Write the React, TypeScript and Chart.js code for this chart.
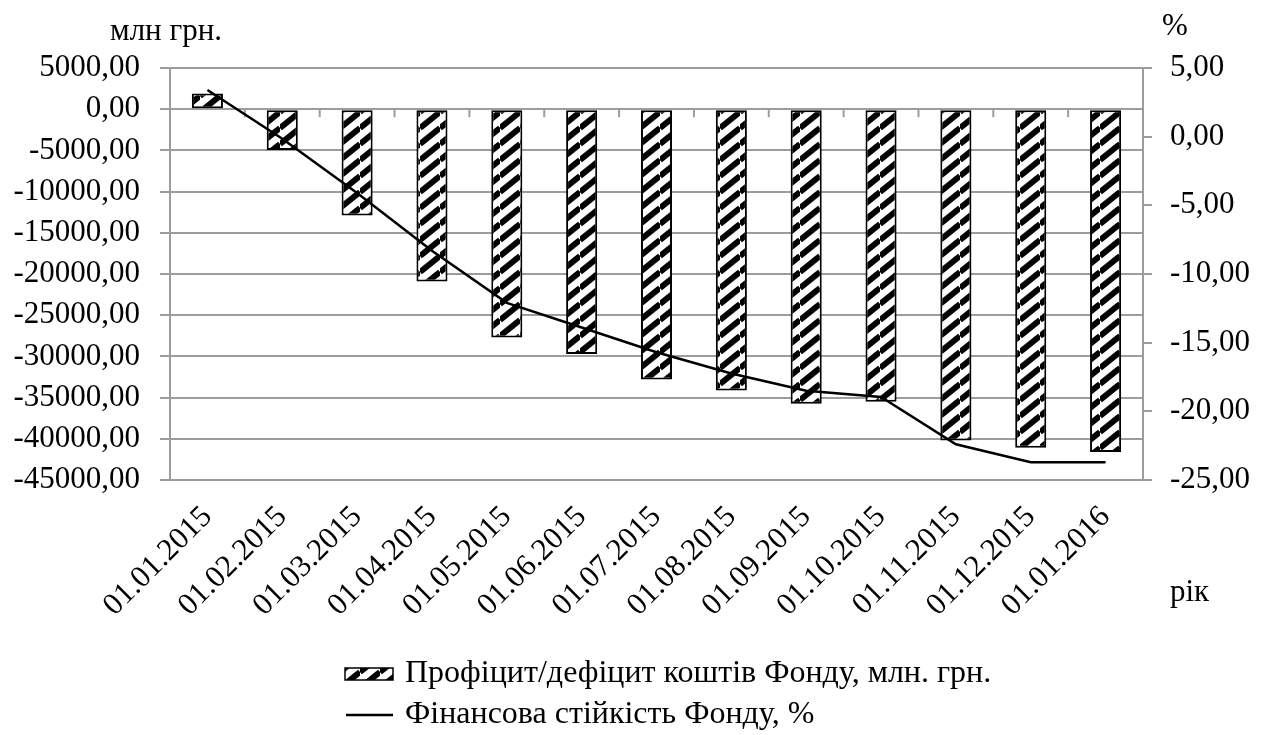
import React, { useEffect, useRef } from "react";
import { Chart, registerables } from "chart.js";

Chart.register(...registerables);

// Reporting dates (category axis)
const dates = [
  "01.01.2015",
  "01.02.2015",
  "01.03.2015",
  "01.04.2015",
  "01.05.2015",
  "01.06.2015",
  "01.07.2015",
  "01.08.2015",
  "01.09.2015",
  "01.10.2015",
  "01.11.2015",
  "01.12.2015",
  "01.01.2016",
];

// Surplus / deficit of the Fund, mln UAH (left axis)
const balance = [
  1900, -4950, -12900, -20900, -27700, -29700, -32800, -34150, -35750, -35500,
  -40200, -41100, -41600,
];

// Financial stability of the Fund, % (right axis)
const stability = [
  3.4, -0.15, -4.1, -8.3, -12.1, -13.9, -15.7, -17.25, -18.5, -18.95, -22.4,
  -23.7, -23.7,
];

const balanceLabel = "Профіцит/дефіцит коштів Фонду, млн. грн.";
const stabilityLabel = "Фінансова стійкість Фонду, %";
const leftUnit = "млн грн.";
const rightUnit = "%";
const xUnit = "рік";

const leftRange = { min: -45000, max: 5000, step: 5000 };
const rightRange = { min: -25, max: 5, step: 5 };

const FAMILY = '"Liberation Serif", "Times New Roman", serif';
const TICK_SIZE = 31;
const LEGEND_SIZE = 32;
const GRID = "#9c9c9c";

const fmt = (v: number) => Number(v).toFixed(2).replace(".", ",");

// Upward diagonal hatch used for the bars and their legend swatch
function makeHatch(ctx: CanvasRenderingContext2D): CanvasPattern | string {
  const w = 20;
  const h = 16;
  const tile = document.createElement("canvas");
  tile.width = w;
  tile.height = h;
  const g = tile.getContext("2d");
  if (!g) return "#888";
  g.fillStyle = "#ffffff";
  g.fillRect(0, 0, w, h);
  g.strokeStyle = "#000000";
  g.lineWidth = 6;
  for (let k = -1; k <= 1; k++) {
    g.beginPath();
    g.moveTo(0, h + k * h);
    g.lineTo(w, k * h);
    g.stroke();
  }
  return ctx.createPattern(tile, "repeat") || "#888";
}

export default function App() {
  const canvasRef = useRef<HTMLCanvasElement | null>(null);

  useEffect(() => {
    const canvas = canvasRef.current;
    if (!canvas) return;
    const ctx = canvas.getContext("2d");
    if (!ctx) return;
    const hatch = makeHatch(ctx);

    const decorations = {
      id: "decorations",
      beforeDatasetsDraw(chart: any) {
        // category tick marks hanging under the zero line
        const c = chart.ctx;
        const xs = chart.scales.x;
        const y0 = chart.scales.y.getPixelForValue(0);
        c.save();
        c.strokeStyle = GRID;
        c.lineWidth = 2;
        for (let i = 1; i < dates.length; i++) {
          const bx = (xs.getPixelForValue(i - 1) + xs.getPixelForValue(i)) / 2;
          c.beginPath();
          c.moveTo(bx, y0);
          c.lineTo(bx, y0 + 8);
          c.stroke();
        }
        c.restore();
      },
      afterDraw(chart: any) {
        const c = chart.ctx;
        const area = chart.chartArea;
        c.save();
        c.font = `${TICK_SIZE}px ${FAMILY}`;
        c.fillStyle = "#000";
        c.textBaseline = "alphabetic";

        // axis units
        c.textAlign = "center";
        c.fillText(leftUnit, 166, 40);
        c.textAlign = "left";
        c.fillText(rightUnit, area.right + 19, 35);
        c.fillText(xUnit, area.right + 27, 601);

        // legend
        c.font = `${LEGEND_SIZE}px ${FAMILY}`;
        const lx = 345;
        c.fillStyle = hatch;
        c.fillRect(lx, 668, 48, 12);
        c.strokeStyle = "#000";
        c.lineWidth = 1.5;
        c.strokeRect(lx, 668, 48, 12);
        c.fillStyle = "#000";
        c.fillText(balanceLabel, lx + 60, 682);

        c.beginPath();
        c.moveTo(lx + 1, 715);
        c.lineTo(lx + 48, 715);
        c.lineWidth = 2.5;
        c.stroke();
        c.fillText(stabilityLabel, lx + 60, 723);
        c.restore();
      },
    };

    const tickFont = { family: FAMILY, size: TICK_SIZE };

    const chart = new Chart(canvas, {
      data: {
        labels: dates,
        datasets: [
          {
            type: "bar",
            label: balanceLabel,
            data: balance,
            yAxisID: "y",
            backgroundColor: hatch as any,
            borderColor: "#000",
            borderWidth: 2,
            borderSkipped: false,
            barPercentage: 0.415,
            categoryPercentage: 1,
            order: 1,
          },
          {
            type: "line",
            label: stabilityLabel,
            data: stability,
            yAxisID: "y1",
            borderColor: "#000",
            borderWidth: 2.5,
            pointRadius: 0,
            tension: 0,
            fill: false,
            order: 0,
          },
        ],
      },
      options: {
        responsive: true,
        maintainAspectRatio: false,
        animation: false,
        layout: { padding: { top: 68, left: 0, right: 0, bottom: 0 } },
        plugins: {
          legend: { display: false },
          tooltip: { enabled: false },
        },
        scales: {
          x: {
            type: "category",
            grid: { display: false, drawTicks: false, tickLength: 0 },
            border: { display: false },
            ticks: {
              font: tickFont,
              color: "#000",
              minRotation: 45,
              maxRotation: 45,
              autoSkip: false,
              padding: 19,
            },
            afterFit(s: any) {
              s.height = 255;
            },
          },
          y: {
            position: "left",
            min: leftRange.min,
            max: leftRange.max,
            ticks: {
              stepSize: leftRange.step,
              font: tickFont,
              color: "#000",
              padding: 20,
              callback: (v: any) => fmt(v),
            },
            grid: { color: GRID, lineWidth: 2, tickLength: 10, drawTicks: true },
            border: { display: true, color: GRID, width: 2 },
            afterFit(s: any) {
              s.width = 170;
            },
          },
          y1: {
            position: "right",
            min: rightRange.min,
            max: rightRange.max,
            ticks: {
              stepSize: rightRange.step,
              font: tickFont,
              color: "#000",
              padding: 18,
              callback: (v: any) => fmt(v),
            },
            grid: {
              drawOnChartArea: false,
              color: GRID,
              lineWidth: 2,
              tickLength: 9,
              drawTicks: true,
            },
            border: { display: true, color: GRID, width: 2 },
            afterFit(s: any) {
              s.width = 126;
            },
          },
        },
      },
      plugins: [decorations],
    } as any);

    return () => chart.destroy();
  }, []);

  return (
    <div
      style={{
        position: "absolute",
        left: 0,
        top: 0,
        width: 1269,
        height: 735,
        background: "#fff",
      }}
    >
      <canvas ref={canvasRef} />
    </div>
  );
}
